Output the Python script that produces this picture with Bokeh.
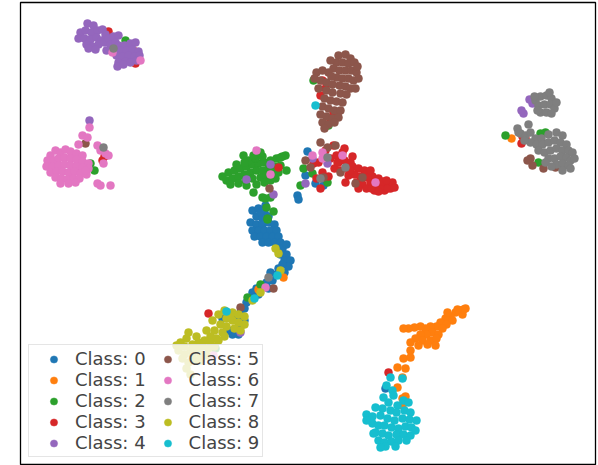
from bokeh.plotting import figure
from bokeh.models import Range1d
from bokeh.embed import file_html
from bokeh.resources import INLINE

# Positions (embedding units = reference pixels, y downwards)
class_0 = [(252,210),(258,208),(264,212),(256,216),(262,218),(268,216),(250,222),(256,224),(262,224),
           (268,222),(274,224),(252,230),(258,230),(264,230),(270,230),(276,230),(254,236),(260,236),
           (266,236),(272,236),(278,236),(262,242),(268,242),(274,242),(280,242),(276,248),(282,248),
           (286,244),(280,254),(286,254),(284,260),(290,260),(288,266),(282,264),(278,268),(284,272),
           (276,274),(270,272),(272,280),(266,282),(262,286),(268,288),(256,288),(252,292),(258,294),
           (250,298),(246,302),(244,308),(240,312),(236,316),(244,320),(240,326),(232,334),(238,334),
           (228,330),(243,318),(222,318),(297,195),(298,199),(307,151),(305,175),(315,183),(323,185),
           (265,205),(260,212),(385,388)]
class_1 = [(465,308),(460,310),(455,312),(462,314),(450,316),(445,318),(452,320),(440,322),(446,324),
           (436,326),(442,328),(430,326),(425,328),(420,326),(414,327),(408,328),(403,328),(432,332),
           (426,334),(420,334),(438,334),(415,338),(422,340),(430,340),(436,338),(410,342),(418,345),
           (427,344),(435,345),(410,350),(403,358),(410,357),(397,367),(405,368),(402,377),(397,387),
           (402,398),(405,396),(402,405),(463,309),(457,309),(447,312),
           (511,138),(283,277),(258,289),(133,50)]
class_2 = [(222,176),(228,172),(234,170),(240,168),(246,166),(252,164),(258,163),(264,162),(270,160),
           (276,158),(282,156),(285,155),(226,180),(232,178),(238,176),(244,174),(250,172),(256,170),
           (262,170),(268,168),(274,166),(280,165),(286,170),(230,184),(238,183),(245,180),(252,178),
           (260,177),(266,175),(272,172),(278,172),(248,160),(255,158),(262,156),(236,164),(244,162),
           (253,155),(260,152),(243,155),(280,157),(246,185),(256,184),(264,182),(270,180),(275,178),
           (253,192),(262,197),(265,198),(270,197),(266,207),(273,211),(267,219),
           (540,133),(545,132),(505,135),(538,162),(313,80),(328,125),(90,163),(94,170),(125,40),
           (303,168),(312,173),(300,185),(327,182),(267,218),(260,284),(247,297),(215,348)]
class_3 = [(325,150),(333,145),(330,158),(336,155),(342,152),(338,162),(344,160),(350,162),(334,168),
           (340,170),(346,168),(352,166),(358,168),(364,170),(348,175),(354,174),(360,176),(366,174),
           (372,176),(378,178),(356,182),(362,184),(370,182),(376,184),(382,186),(388,184),(384,190),
           (390,188),(374,190),(366,188),(322,172),(328,176),(316,178),(320,188),(345,182),(318,162),
           (352,156),(344,148),(337,162),(313,163),(350,170),(367,177),(380,187),(387,188),(370,170),
           (376,180),(382,181),(358,188),(392,182),(394,187),(386,180),(371,188),(378,191),
           (522,136),(521,143),(525,138),(322,80),(320,95),(333,112),(337,115),(330,120),(325,88),
           (104,156),(102,160),(108,31),(135,63),(278,167),(388,372),(208,313)]
class_4 = [(87,23),(93,25),(80,32),(85,30),(91,32),(97,30),(102,29),(105,34),(78,38),(84,38),(90,39),
           (96,37),(101,40),(86,44),(92,46),(98,44),(104,42),(88,48),(95,49),(108,38),(113,36),(118,35),
           (110,44),(115,42),(106,50),(118,45),(124,45),(130,43),(135,42),(120,50),(126,50),(132,49),
           (138,51),(116,55),(122,56),(128,55),(134,56),(139,55),(118,62),(125,61),(130,62),(136,60),
           (117,66),(123,64),
           (89,120),(270,164),(246,179),(273,194),(312,158),(327,163),(305,183),(532,103),(523,113),
           (529,99),(521,110),(240,332)]
class_5 = [(338,55),(345,54),(350,58),(336,62),(342,62),(348,63),(354,62),(333,68),(339,70),(345,70),
           (351,70),(356,72),(336,77),(342,78),(348,78),(353,80),(339,85),(345,86),(350,88),(316,72),
           (322,70),(328,72),(314,78),(320,80),(326,82),(332,84),(318,88),(326,90),(332,92),(340,93),
           (346,94),(324,98),(330,100),(336,101),(342,102),(322,106),(328,108),(334,110),(340,110),
           (320,114),(326,116),(332,118),(338,117),(322,122),(328,124),(324,128),(334,122),
           (330,60),(357,66),(358,78),(331,76),(355,88),
           (320,142),(327,147),(305,160),(310,167),(340,172),(362,177),(355,183),(323,177),(335,145),
           (269,188),(85,143),(273,288),(240,307),(530,158),(532,165),(543,168),(555,167),(527,160)]
class_6 = [(50,155),(55,150),(60,152),(65,149),(70,151),(76,153),(82,155),(47,160),(53,160),(58,158),
           (64,157),(70,158),(76,159),(82,161),(88,163),(46,166),(52,166),(58,165),(64,164),(70,165),
           (76,166),(82,167),(88,168),(50,172),(56,171),(62,171),(68,172),(74,171),(80,173),(86,174),
           (55,177),(61,178),(67,179),(73,178),(79,178),(60,183),(68,183),(75,182),(85,170),
           (89,127),(82,135),(87,137),(78,144),(97,145),(100,150),(105,153),(108,155),(103,163),
           (97,183),(100,185),(110,185),
           (256,150),(270,174),(312,155),(322,158),(322,152),(342,155),(375,182),(112,52),(140,60),
           (265,287),(213,355)]
class_7 = [(535,100),(540,96),(546,95),(551,98),(538,105),(544,104),(550,104),(554,108),(540,112),
           (546,112),(551,113),(537,110),(534,96),(556,102),(549,92),
           (520,133),(525,135),(530,132),(535,138),(541,138),(548,134),
           (556,132),(562,135),(530,142),(536,144),(542,144),(548,142),(554,140),(560,142),(566,144),
           (538,150),(544,152),(550,150),(556,148),(562,150),(568,150),(548,158),(554,158),(560,156),
           (566,157),(570,160),(556,164),(562,163),(568,165),(528,124),(517,128),(518,132),
           (524,140),(572,152),(574,158),(562,170),(570,168),(545,162),(551,166),
           (113,48),(103,147),(327,157),(345,167),(320,178),(268,277)]
class_8 = [(232,312),(238,314),(244,316),(226,318),(232,320),(238,322),(244,324),(220,324),(226,326),
           (234,328),(240,330),(214,330),(222,332),(210,336),(216,338),(224,336),(204,340),(210,342),
           (198,342),(192,344),(186,338),(180,342),(184,346),(190,350),(196,348),(202,346),(208,348),
           (214,346),(178,350),(184,354),(192,356),(200,354),(206,355),(188,362),(194,360),(182,358),
           (186,368),(190,374),(212,320),(218,314),(224,310),(206,330),(196,336),(188,332),
           (176,345),(200,360),(218,340),(230,316),
           (275,248),(278,253),(280,270),(260,292),(252,300)]
class_9 = [(390,377),(402,378),(386,385),(392,390),(383,397),(393,395),(388,402),(397,405),(403,400),
           (408,402),(375,407),(382,408),(390,410),(396,412),(404,410),(410,412),(366,414),(372,416),
           (380,415),(387,418),(394,420),(402,418),(409,419),(372,423),(378,425),(384,425),(391,427),
           (398,428),(405,426),(411,427),(375,432),(382,433),(388,435),(396,434),(403,434),(410,435),
           (378,440),(384,442),(391,441),(398,440),(406,440),(385,446),(373,433),(370,420),
           (366,420),(416,420),(415,430),(380,447),(395,446),
           (315,105),(277,275),(254,298),(226,311)]

classes = [class_0, class_1, class_2, class_3, class_4, class_5, class_6, class_7, class_8, class_9]
labels = ["Class: %d" % i for i in range(10)]
colors = ["#1f77b4", "#ff7f0e", "#2ca02c", "#d62728", "#9467bd",
          "#8c564b", "#e377c2", "#7f7f7f", "#bcbd22", "#17becf"]

p = figure(width=598, height=465, output_backend="svg", toolbar_location=None,
           x_range=Range1d(20, 595), y_range=Range1d(464, 2),
           min_border_left=20, min_border_right=3, min_border_top=2, min_border_bottom=1)
p.xaxis.visible = False
p.yaxis.visible = False
p.grid.visible = False
p.outline_line_color = "black"
p.outline_line_width = 1.3
p.background_fill_color = "white"
p.border_fill_color = "white"

for pts, lab, col in zip(classes, labels, colors):
    xs = [a for a, b in pts]
    ys = [b for a, b in pts]
    p.scatter(xs, ys, size=8, fill_color=col, line_color=col, line_width=0.5,
              legend_label=lab)

lg = p.legend[0]
lg.ncols = 2
lg.location = (8, 7)
lg.label_text_font = "DejaVu Sans"
lg.label_text_font_size = "18px"
lg.label_standoff = 0
lg.glyph_width = 43
lg.glyph_height = 18
lg.label_height = 18
lg.spacing = 0
lg.padding = 3
lg.margin = 0
lg.border_line_color = "#cccccc"
lg.border_line_width = 1.3
lg.background_fill_alpha = 0.8

open("out.html", "w").write(file_html(p, INLINE))
